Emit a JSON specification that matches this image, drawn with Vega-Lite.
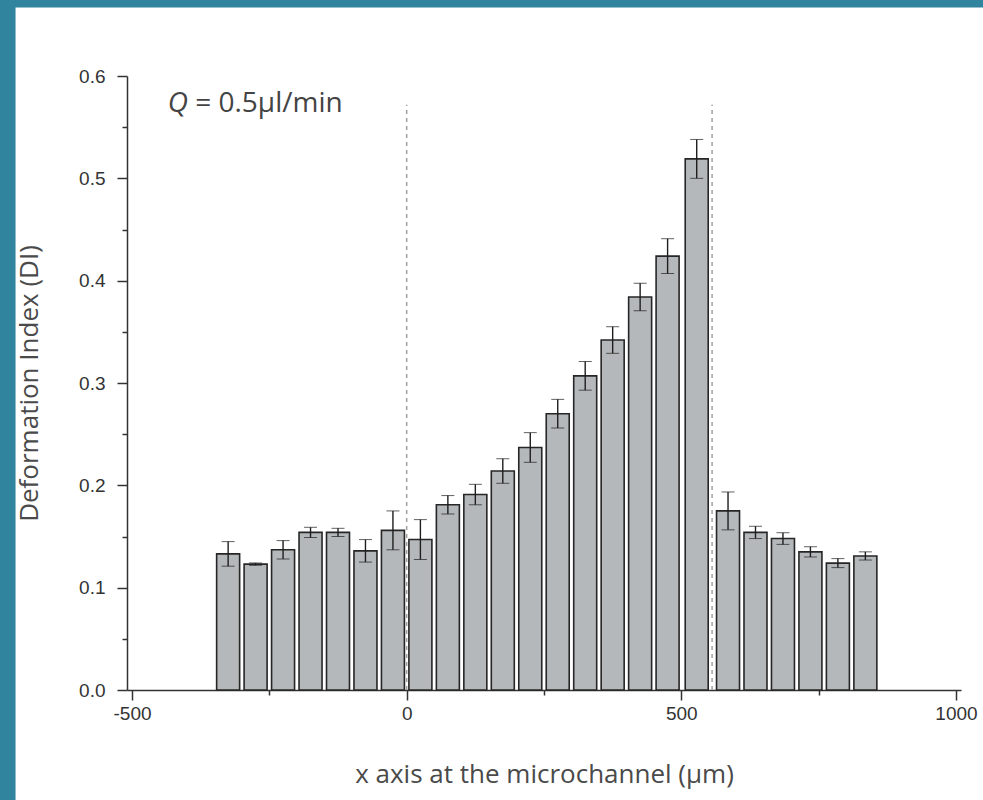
{
  "$schema": "https://vega.github.io/schema/vega-lite/v6.json",
  "width": 834,
  "height": 614,
  "autosize": "none",
  "padding": {"left": 127, "top": 76, "right": 22, "bottom": 110},
  "background": "#ffffff",
  "config": {
    "view": {"stroke": null},
    "axis": {
      "grid": false,
      "domainColor": "#333333",
      "domainWidth": 1.5,
      "tickColor": "#333333",
      "tickWidth": 1.5,
      "labelFont": "Liberation Sans",
      "labelFontSize": 19,
      "labelColor": "#333333",
      "titleFont": "Open Sans",
      "titleFontSize": 26,
      "titleFontWeight": "normal",
      "titleColor": "#4a4a4a"
    }
  },
  "data": {
    "values": [
      {"x": -325, "di": 0.133, "err": 0.012},
      {"x": -275, "di": 0.123, "err": 0.0012},
      {"x": -225, "di": 0.137, "err": 0.009},
      {"x": -175, "di": 0.154, "err": 0.005},
      {"x": -125, "di": 0.154, "err": 0.004},
      {"x": -75, "di": 0.136, "err": 0.011},
      {"x": -25, "di": 0.156, "err": 0.019},
      {"x": 25, "di": 0.147, "err": 0.0195},
      {"x": 75, "di": 0.181, "err": 0.009},
      {"x": 125, "di": 0.191, "err": 0.01},
      {"x": 175, "di": 0.214, "err": 0.012},
      {"x": 225, "di": 0.237, "err": 0.0145},
      {"x": 275, "di": 0.27, "err": 0.014},
      {"x": 325, "di": 0.307, "err": 0.014},
      {"x": 375, "di": 0.342, "err": 0.013},
      {"x": 425, "di": 0.384, "err": 0.0135},
      {"x": 475, "di": 0.424, "err": 0.017},
      {"x": 528, "di": 0.519, "err": 0.019},
      {"x": 585, "di": 0.175, "err": 0.0185},
      {"x": 635, "di": 0.154, "err": 0.006},
      {"x": 685, "di": 0.148, "err": 0.0057},
      {"x": 735, "di": 0.135, "err": 0.005},
      {"x": 785, "di": 0.124, "err": 0.0044},
      {"x": 835, "di": 0.131, "err": 0.004}
    ]
  },
  "layer": [
    {
      "mark": {"type": "bar", "size": 23, "fill": "#b4b8ba", "stroke": "#262626", "strokeWidth": 1.6},
      "encoding": {
        "x": {
          "field": "x",
          "type": "quantitative",
          "scale": {"domain": [-500, 1000], "nice": false},
          "axis": {
            "values": [-500, -250, 0, 250, 500, 750, 1000],
            "labelExpr": "datum.value % 500 === 0 ? '' + datum.value : ''",
            "tickSize": {"condition": {"test": "datum.value % 500 === 0", "value": 10}, "value": 5},
            "labelPadding": 4,
            "title": "x axis at the microchannel (μm)",
            "titlePadding": 38
          }
        },
        "y": {
          "field": "di",
          "type": "quantitative",
          "scale": {"domain": [0, 0.6], "nice": false},
          "axis": {
            "values": [0, 0.05, 0.1, 0.15, 0.2, 0.25, 0.3, 0.35, 0.4, 0.45, 0.5, 0.55, 0.6],
            "labelExpr": "abs(datum.value * 10 - round(datum.value * 10)) < 0.001 ? format(datum.value, '.1f') : ''",
            "tickSize": {"condition": {"test": "abs(datum.value * 10 - round(datum.value * 10)) < 0.001", "value": 10}, "value": 5},
            "labelPadding": 12,
            "title": "Deformation Index (DI)",
            "titlePadding": 36
          }
        }
      }
    },
    {
      "mark": {
        "type": "errorbar",
        "ticks": {"size": 13, "color": "#1e1e1e", "strokeWidth": 1.7},
        "rule": {"color": "#1e1e1e", "strokeWidth": 1.4}
      },
      "encoding": {
        "x": {"field": "x", "type": "quantitative"},
        "y": {"field": "di", "type": "quantitative", "title": "Deformation Index (DI)"},
        "yError": {"field": "err"}
      }
    },
    {
      "data": {"values": [{"xline": 0}, {"xline": 556}]},
      "mark": {"type": "rule", "color": "#a0a0a0", "strokeDash": [4, 4], "strokeWidth": 1.5},
      "encoding": {
        "x": {"field": "xline", "type": "quantitative"},
        "y": {"datum": 0, "type": "quantitative"},
        "y2": {"datum": 0.572}
      }
    },
    {
      "data": {"values": [{}]},
      "mark": {"type": "rect", "fill": "#30849e", "clip": false},
      "encoding": {
        "x": {"datum": -900, "type": "quantitative"},
        "x2": {"datum": 2000},
        "y": {"datum": 0.667, "type": "quantitative"},
        "y2": {"datum": 0.9}
      }
    },
    {
      "data": {"values": [{}]},
      "mark": {"type": "rect", "fill": "#30849e", "clip": false},
      "encoding": {
        "x": {"datum": -900, "type": "quantitative"},
        "x2": {"datum": -712},
        "y": {"datum": -1, "type": "quantitative"},
        "y2": {"datum": 0.9}
      }
    },
    {
      "data": {"values": [{}]},
      "mark": {"type": "text", "text": "Q", "font": "Open Sans", "fontSize": 28, "fontStyle": "italic", "color": "#444444", "align": "left", "baseline": "middle"},
      "encoding": {
        "x": {"datum": -435, "type": "quantitative"},
        "y": {"datum": 0.5727, "type": "quantitative"}
      }
    },
    {
      "data": {"values": [{}]},
      "mark": {"type": "text", "text": "= 0.5μl/min", "font": "Open Sans", "fontSize": 28, "color": "#444444", "align": "left", "baseline": "middle"},
      "encoding": {
        "x": {"datum": -385, "type": "quantitative"},
        "y": {"datum": 0.5727, "type": "quantitative"}
      }
    }
  ]
}
